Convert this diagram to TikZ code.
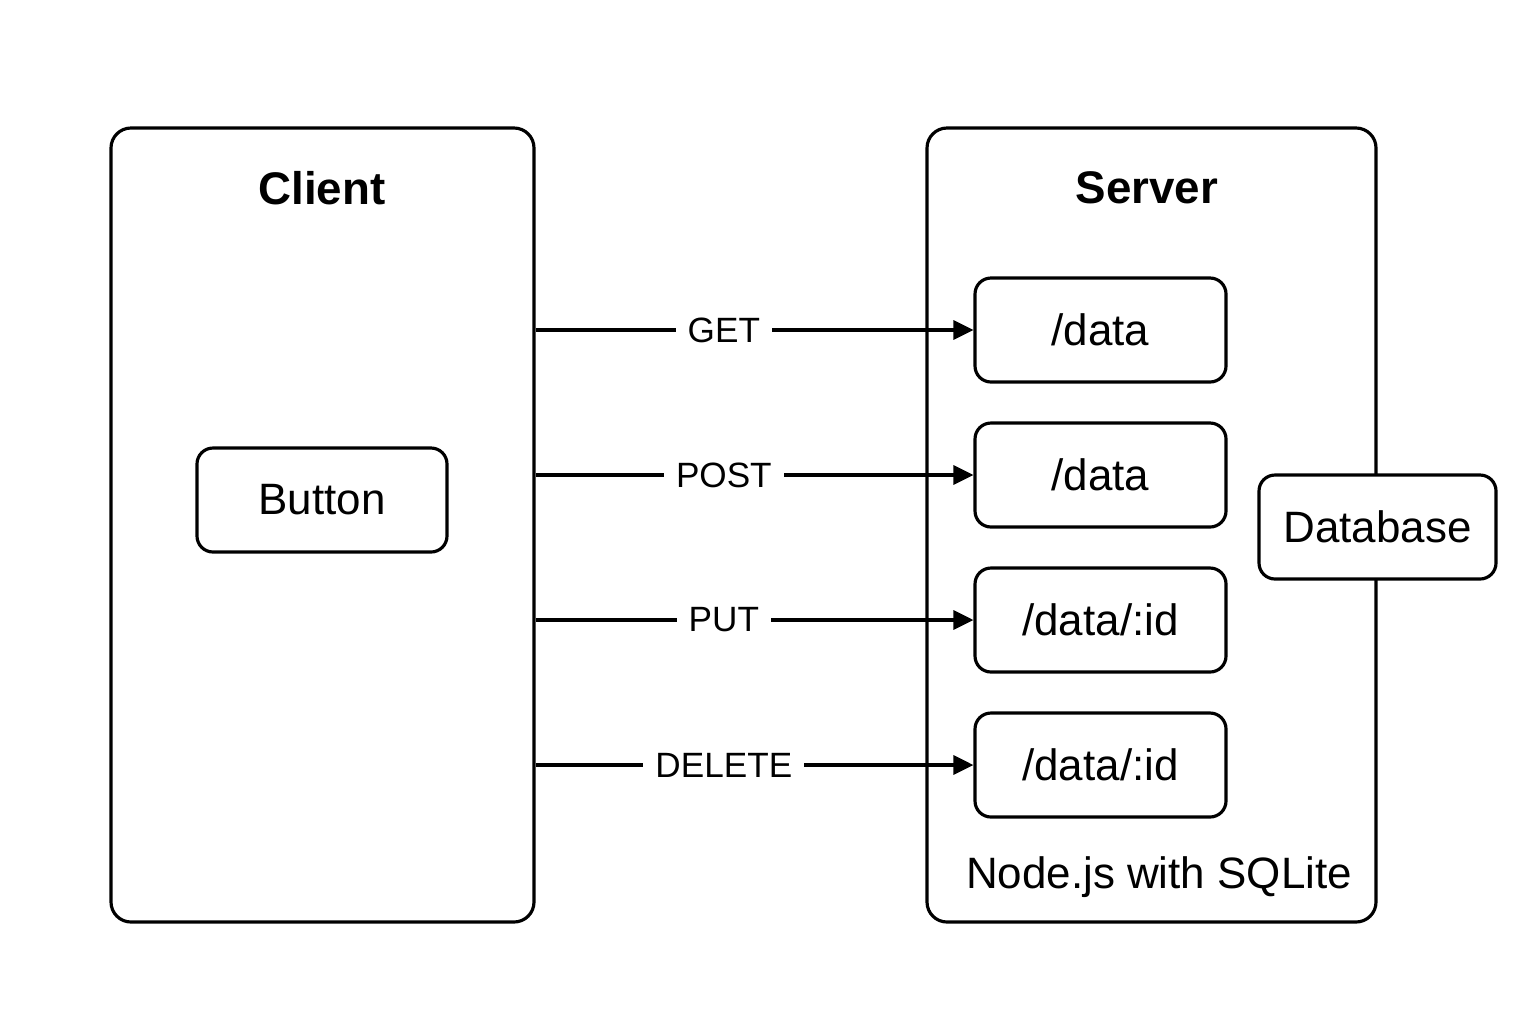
\documentclass[tikz,border=0pt]{standalone}
\usepackage{fontspec}
\setmainfont{Liberation Sans}
\usetikzlibrary{arrows.meta,positioning}

\begin{document}
\begin{tikzpicture}[
    >={Triangle[length=0.2cm,width=0.19cm]},
    panel/.style={rectangle,draw,line width=0.9pt,rounded corners=0.2cm,minimum height=7.94cm},
    route/.style={rectangle,draw,line width=0.9pt,rounded corners=0.16cm,minimum width=2.51cm,minimum height=1.04cm,font=\fontsize{12.5}{15}\selectfont},
    verb/.style={fill=white,inner xsep=0.12cm,pos=0.43,font=\fontsize{10}{12}\selectfont},
    title/.style={font=\fontsize{13}{15}\bfseries\selectfont},
    call/.style={->,line width=0.9pt},
]
    \useasboundingbox (0,0) rectangle (15.36,-10.24);

    \node[panel,minimum width=4.23cm] (client) at (3.225,-5.25) {};
    \node[panel,minimum width=4.49cm] (server) at (11.515,-5.25) {};
    \node[title] (client_title) at (3.22,-1.88) {Client};
    \node[title] (server_title) at (11.47,-1.88) {Server};

    \node[route,minimum width=2.5cm] (button) at (3.22,-5.0) {Button};

    \node[route] (get_r) at (11.005,-3.30) {/data};
    \node[route,yshift=-1.45cm] (post_r) at (get_r) {/data};
    \node[route,yshift=-1.45cm] (put_r) at (post_r) {/data/:id};
    \node[route,yshift=-1.45cm] (del_r) at (put_r) {/data/:id};
    \node[route,fill=white,minimum width=2.37cm] (db) at (13.775,-5.27) {Database};
    \node[font=\fontsize{12.5}{15}\selectfont] (stack) at (11.59,-8.77) {Node.js with SQLite};

    % \node[yshift=.5cm] (api_label) at (server.north) {REST API};

    \draw[call] (client.east |- get_r) -- node[verb] {GET} (get_r) ;
    \draw[call] (client.east |- post_r) -- node[verb] {POST} (post_r) ;
    \draw[call] (client.east |- put_r) -- node[verb] {PUT} (put_r) ;
    \draw[call] (client.east |- del_r) -- node[verb] {DELETE} (del_r) ;
\end{tikzpicture}
\end{document}
